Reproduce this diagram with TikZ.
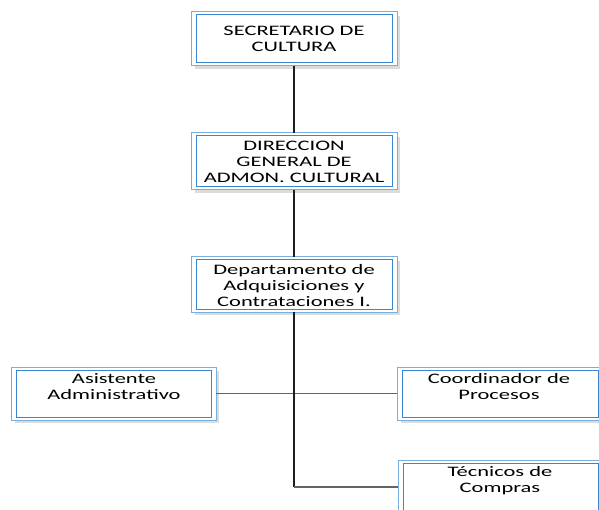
\documentclass[tikz,border=0pt]{standalone}
\usepackage{fontspec}
\newfontfamily\boxfont[FakeStretch=1.55]{Carlito}
\definecolor{frameout}{RGB}{120,175,225}
\definecolor{framein}{RGB}{55,135,210}
\definecolor{shade}{RGB}{220,220,220}
\definecolor{trunk}{RGB}{30,30,30}
\definecolor{branch}{RGB}{100,100,100}
\tikzset{
  boxtext/.style={font=\boxfont\fontsize{14.5}{16}\selectfont, align=center, inner sep=0pt},
  outerframe/.style={draw=frameout, line width=1pt},
  innerframe/.style={draw=framein, line width=1pt},
  shadowframe/.style={fill=shade, draw=none},
  trunkline/.style={draw=trunk, line width=2.2pt},
  branchline/.style={draw=branch, line width=1.9pt},
}
% a unit box: shadow, outer frame and inner frame, from corner (#1,#2) to (#3,#4)
\newcommand{\unitbox}[5]{%
  \fill[shadowframe] (#1+4,#2+4) rectangle (#3+3,#4+3);
  \fill[white] (#1,#2) rectangle (#3,#4);
  \draw[outerframe] (#1,#2) rectangle (#3,#4);
  \draw[innerframe] (#1+5,#2+3) rectangle (#3-5,#4-3);
  \coordinate (#5-n) at ({(#1+#3)/2},#2);
  \coordinate (#5-s) at ({(#1+#3)/2},#4);
  \coordinate (#5-w) at (#1,{(#2+#4)/2});
  \coordinate (#5-e) at (#3,{(#2+#4)/2});
}
\begin{document}
\begin{tikzpicture}[x=1pt,y=-1pt]
\useasboundingbox (0,0) rectangle (599,510);
\clip (0,0) rectangle (599,510);
\fill[white] (0,0) rectangle (599,510);

% foot of the vertical spine, where the last branch leaves it
\coordinate (spine) at (294,487);

\unitbox{191}{12}{397}{66}{sec}
\unitbox{191}{133}{397}{190}{dir}
\unitbox{191}{257}{397}{312}{dep}
\unitbox{11}{367}{216}{420}{asi}
\unitbox{397}{367}{603}{420}{coo}
\unitbox{398}{460}{603}{520}{tec}

\draw[trunkline] (sec-s) -- (dir-n);
\draw[trunkline] (dir-s) -- (dep-n);
\draw[branchline] (asi-e) -- (coo-w);
\draw[trunkline] (dep-s) -- (spine);
\draw[branchline] (spine) -- (tec-w |- spine);

\node[boxtext] (tsec) at (294,39) {SECRETARIO DE\\CULTURA};
\node[boxtext] (tdir) at (294,162) {DIRECCION\\GENERAL DE\\ADMON. CULTURAL};
\node[boxtext] (tdep) at (294,286) {Departamento de\\Adquisiciones y\\Contrataciones I.};
\node[boxtext] (tasi) at (114,387) {Asistente\\Administrativo};
\node[boxtext] (tcoo) at (499,387) {Coordinador de\\Procesos};
\node[boxtext] (ttec) at (500,481) {Técnicos de\\Compras};
\end{tikzpicture}
\end{document}
